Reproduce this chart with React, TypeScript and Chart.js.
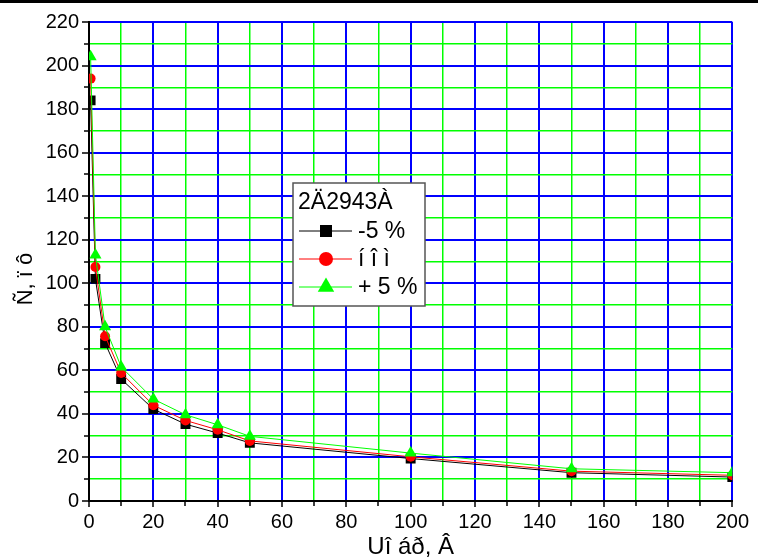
import React, { useEffect, useRef } from 'react';
import { Chart, registerables } from 'chart.js';

Chart.register(...registerables);

// Current (A) at which each measurement was taken
const currentA = [0.5, 2, 5, 10, 20, 30, 40, 50, 100, 150, 200];
// Response time for the three supply levels
const timeMinus5 = [184, 102, 72.5, 56, 42.2, 35.3, 31.2, 26.7, 19.5, 13, 11];
const timeNominal = [194, 107.5, 75.7, 58.8, 44, 37, 32.7, 27.6, 20.3, 13.7, 11.8];
const timePlus5 = [204, 113, 80, 61.6, 46.8, 39.6, 35, 29.7, 22, 14.8, 13];

const seriesLabels = ['-5 %', 'í î ì', '+ 5 %'];
const seriesColors = ['#000000', '#ff0000', '#00ff00'];
const seriesShapes = ['rect', 'circle', 'triangle'];
const legendTitle = '2Ä2943À';
const xTitle = 'Uî áð, Â';
const yTitle = 'Ñ, ï ô';

const FONT = '"Liberation Sans", Arial, sans-serif';

function drawMarker(ctx: CanvasRenderingContext2D, shape: string, x: number, y: number, r: number, color: string) {
  ctx.fillStyle = color;
  ctx.beginPath();
  if (shape === 'rect') {
    const s = r * Math.SQRT1_2;
    ctx.rect(x - s, y - s, 2 * s, 2 * s);
  } else if (shape === 'circle') {
    ctx.arc(x, y, r, 0, Math.PI * 2);
  } else {
    ctx.moveTo(x, y - r);
    ctx.lineTo(x + r * Math.sin((2 * Math.PI) / 3), y + r * 0.5);
    ctx.lineTo(x - r * Math.sin((2 * Math.PI) / 3), y + r * 0.5);
    ctx.closePath();
  }
  ctx.fill();
}

// Outward tick marks on both axes, plus the rotated y-axis title
const axisDecor = {
  id: 'axisDecor',
  afterDraw(chart: any) {
    const { ctx, chartArea, scales } = chart;
    const xs = scales.x;
    const ys = scales.y;
    ctx.save();
    ctx.strokeStyle = '#000';
    ctx.lineWidth = 1.5;
    ctx.beginPath();
    xs.ticks.forEach((t: any) => {
      const px = Math.round(xs.getPixelForValue(t.value));
      const len = t.value % 20 === 0 ? 6 : 5;
      ctx.moveTo(px, chartArea.bottom);
      ctx.lineTo(px, chartArea.bottom + len);
    });
    ys.ticks.forEach((t: any) => {
      const py = Math.round(ys.getPixelForValue(t.value));
      const len = t.value % 20 === 0 ? 7 : 5;
      ctx.moveTo(chartArea.left, py);
      ctx.lineTo(chartArea.left - len, py);
    });
    ctx.stroke();

    ctx.translate(26, 279);
    ctx.rotate(-Math.PI / 2);
    ctx.fillStyle = '#000';
    ctx.font = `22px ${FONT}`;
    ctx.textAlign = 'center';
    ctx.textBaseline = 'middle';
    ctx.fillText(yTitle, 0, 0);
    ctx.restore();
  },
};

// Boxed legend placed inside the plot (sample markers drawn a little larger)
const legendMarkerRadii = [8.5, 7, 9.5];
const insetLegend = {
  id: 'insetLegend',
  afterDraw(chart: any) {
    const ctx: CanvasRenderingContext2D = chart.ctx;
    const bx = 293, by = 183, bw = 132, bh = 123;
    ctx.save();
    ctx.fillStyle = '#ffffff';
    ctx.fillRect(bx, by, bw, bh);
    ctx.strokeStyle = '#555555';
    ctx.lineWidth = 1.5;
    ctx.strokeRect(bx, by, bw, bh);
    ctx.fillStyle = '#000';
    ctx.font = `23px ${FONT}`;
    ctx.textBaseline = 'alphabetic';
    ctx.textAlign = 'left';
    ctx.fillText(legendTitle, 298, 209);
    chart.data.datasets.forEach((ds: any, i: number) => {
      const cy = 231 + i * 28;
      ctx.strokeStyle = ds.borderColor;
      ctx.lineWidth = 1;
      ctx.beginPath();
      ctx.moveTo(299, cy);
      ctx.lineTo(352, cy);
      ctx.stroke();
      drawMarker(ctx, ds.pointStyle, 326, cy, legendMarkerRadii[i], ds.backgroundColor);
      ctx.fillStyle = '#000';
      ctx.textBaseline = 'middle';
      ctx.fillText(ds.label, 358, cy + 1);
    });
    ctx.restore();
  },
};

const isMajor = (ctx: any) => {
  const v = ctx.tick ? Number(ctx.tick.value) : 0;
  return Math.abs(v % 20) < 1e-6;
};
const gridColor = (ctx: any) => (isMajor(ctx) ? '#0000ff' : '#00ff00');
const gridWidth = (ctx: any) => (isMajor(ctx) ? 2 : 1.5);

export default function App() {
  const canvasRef = useRef<HTMLCanvasElement | null>(null);

  useEffect(() => {
    document.body.style.margin = '0';
    const canvas = canvasRef.current;
    if (!canvas) return;
    const series = [timeMinus5, timeNominal, timePlus5];
    const radii = [7, 5, 7];
    const chart = new Chart(canvas, {
      type: 'line',
      data: {
        datasets: series.map((vals, i) => ({
          label: seriesLabels[i],
          data: currentA.map((x, j) => ({ x, y: vals[j] })),
          borderColor: seriesColors[i],
          backgroundColor: seriesColors[i],
          borderWidth: 1,
          pointStyle: seriesShapes[i] as any,
          pointRadius: radii[i],
          pointBorderWidth: 0,
          tension: 0,
          order: 2 - i,
        })),
      },
      options: {
        animation: false,
        responsive: false,
        maintainAspectRatio: false,
        layout: { padding: { top: 20, right: 18, left: 0, bottom: 0 } },
        plugins: {
          legend: { display: false },
          tooltip: { enabled: false },
        },
        scales: {
          x: {
            type: 'linear',
            min: 0,
            max: 200,
            afterFit: (s: any) => { s.height = 59; },
            ticks: {
              stepSize: 10,
              autoSkip: false,
              maxRotation: 0,
              padding: 9,
              color: '#000',
              font: { family: FONT, size: 20 },
              callback: (v: any) => (Number(v) % 20 === 0 ? String(v) : ''),
            },
            grid: { color: gridColor, lineWidth: gridWidth, drawTicks: false },
            border: { display: true, color: '#000', width: 2 },
            title: {
              display: true,
              text: xTitle,
              color: '#000',
              font: { family: FONT, size: 24 },
              padding: { top: 0, bottom: -2 },
            },
          },
          y: {
            type: 'linear',
            min: 0,
            max: 220,
            afterFit: (s: any) => { s.width = 89; },
            ticks: {
              stepSize: 10,
              autoSkip: false,
              padding: 10,
              color: '#000',
              font: { family: FONT, size: 20 },
              callback: (v: any) => (Number(v) % 20 === 0 ? String(v) : ''),
            },
            grid: { color: gridColor, lineWidth: gridWidth, drawTicks: false },
            border: { display: true, color: '#000', width: 2 },
          },
        },
      },
      plugins: [axisDecor, insetLegend],
    });
    return () => chart.destroy();
  }, []);

  return (
    <div style={{ position: 'fixed', left: 0, top: 0, width: 758, height: 560, background: '#fff' }}>
      <canvas ref={canvasRef} width={758} height={560} style={{ display: 'block', width: 758, height: 560 }} />
      <div style={{ position: 'absolute', left: 0, top: 0, width: 758, height: 3, background: '#000' }} />
    </div>
  );
}
